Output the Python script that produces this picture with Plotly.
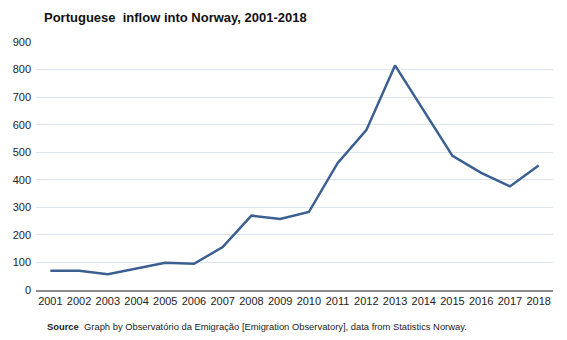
import plotly.graph_objects as go

# Portuguese inflow into Norway, yearly entries
years = [str(y) for y in range(2001, 2019)]
inflow = [70, 70, 57, 78, 99, 95, 156, 270, 258, 283, 460, 580, 815, 651, 487, 425, 376, 452]
y_ticks = [0, 100, 200, 300, 400, 500, 600, 700, 800, 900]

W, H = 567, 340
ML, MR, MT, MB = 36, 14, 42, 50
plot_w, plot_h = W - ML - MR, H - MT - MB

fig = go.Figure()
fig.add_trace(go.Scatter(
    x=years, y=inflow, mode="lines",
    line=dict(color="#3b5f91", width=2.5),
    hoverinfo="x+y",
))

font_family = "Liberation Sans, Arial, sans-serif"

fig.update_layout(
    width=W, height=H,
    margin=dict(l=ML, r=MR, t=MT, b=MB),
    paper_bgcolor="white", plot_bgcolor="white",
    showlegend=False,
    font=dict(family=font_family, size=11, color="#222222"),
    title=dict(
        text="<b>Portuguese  inflow into Norway, 2001-2018</b>",
        x=44 / W, xanchor="left", xref="container",
        y=1 - 17 / H, yanchor="middle", yref="container",
        font=dict(family=font_family, size=13, color="#111111"),
    ),
    xaxis=dict(
        type="category", range=[-0.5, 17.5],
        showgrid=False, showline=True, linecolor="#8c8c8c", linewidth=1.5,
        ticks="", tickfont=dict(size=11, color="#222222"),
        fixedrange=True,
    ),
    yaxis=dict(
        range=[0, 900], tickvals=y_ticks,
        showgrid=True, gridcolor="#dce4ee", gridwidth=1,
        zeroline=False, showline=False, ticks="",
        ticklabelstandoff=4,
        tickfont=dict(size=11, color="#222222"),
        fixedrange=True,
    ),
    annotations=[dict(
        text="<b>Source</b>  Graph by Observatório da Emigração [Emigration Observatory], data from Statistics Norway.",
        x=(45 - ML) / plot_w, y=(MT + plot_h - 326) / plot_h,
        xref="paper", yref="paper",
        xanchor="left", yanchor="middle", showarrow=False,
        font=dict(family=font_family, size=9.4, color="#222222"),
    )],
)

fig.write_html("out.html")
